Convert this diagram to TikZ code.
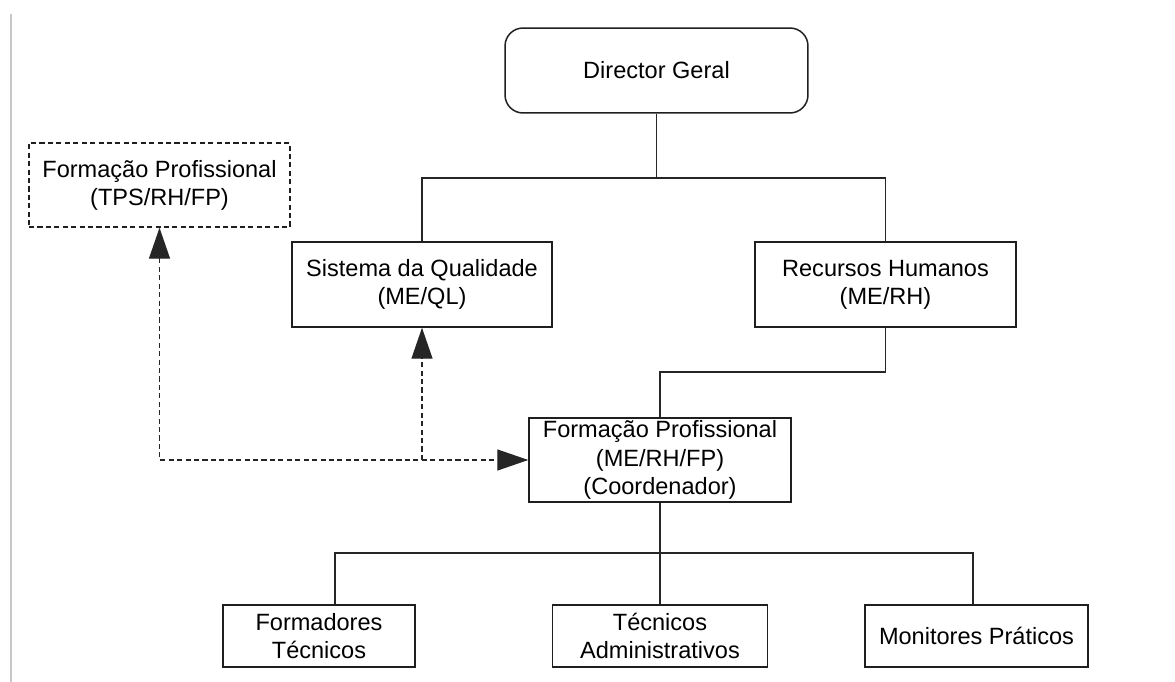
\documentclass[tikz,border=0pt]{standalone}
\usepackage{fontspec}
\setmainfont{Liberation Sans}
\usetikzlibrary{arrows.meta}
\begin{document}
\begin{tikzpicture}[x=0.02cm,y=-0.02cm,
  box/.style={draw=black!88, line width=0.85pt, fill=white, align=center, inner sep=0pt,
    font=\fontsize{13.4}{16}\selectfont},
  solidlink/.style={draw=black!85, line width=0.85pt},
  dlink/.style={draw=black!85, line width=0.8pt, dash pattern=on 2.9pt off 1.9pt},
  tip/.style={-{Triangle[length=0.62cm,width=0.42cm]}}
]
\useasboundingbox (0,0) rectangle (1175,682);
\draw[black!22, line width=1.1pt] (11,14) -- (11,682);

\node[box, rounded corners=0.36cm, minimum width=6.06cm, minimum height=1.7cm] (dg) at (656.5,70.5) {Director Geral};
\node[box, dashed, dash pattern=on 2.9pt off 1.9pt, minimum width=5.22cm, minimum height=1.68cm] (tps) at (159.5,185) {Formação Profissional\\(TPS/RH/FP)};
\node[box, minimum width=5.2cm, minimum height=1.7cm] (sq) at (422,284.5) {Sistema da Qualidade\\(ME/QL)};
\node[box, minimum width=5.22cm, minimum height=1.7cm] (rh) at (885.5,284.5) {Recursos Humanos\\(ME/RH)};
\node[box, minimum width=5.24cm, minimum height=1.68cm] (fp) at (660,460) {Formação Profissional\\(ME/RH/FP)\\(Coordenador)};
\node[box, minimum width=3.84cm, minimum height=1.24cm] (ft) at (319,636) {Formadores\\Técnicos};
\node[box, minimum width=4.3cm, minimum height=1.24cm] (ta) at (660,636) {Técnicos\\Administrativos};
\node[box, minimum width=4.46cm, minimum height=1.24cm] (mp) at (976.5,636) {Monitores Práticos};

% solid hierarchy
\coordinate (j1) at (656.5,178);
\draw[solidlink] (dg.south) -- (j1);
\draw[solidlink] (sq.north) |- (j1) -| (rh.north);
\coordinate (j2) at (885.5,372);
\draw[solidlink] (rh.south) -- (j2) -| (fp.north);
\coordinate (j3) at (660,553);
\draw[solidlink] (fp.south) -- (ta.north);
\draw[solidlink] ([xshift=0.32cm]ft.north) |- (j3) -| ([xshift=-0.07cm]mp.north);

% dashed links
\draw[dlink, {Triangle[length=0.62cm,width=0.42cm]}-{Triangle[length=0.62cm,width=0.42cm]}] (tps.south) |- (fp.west);
\coordinate (j4) at (sq.south |- fp.west);
\draw[dlink, tip] (j4) -- (sq.south);
\end{tikzpicture}
\end{document}
